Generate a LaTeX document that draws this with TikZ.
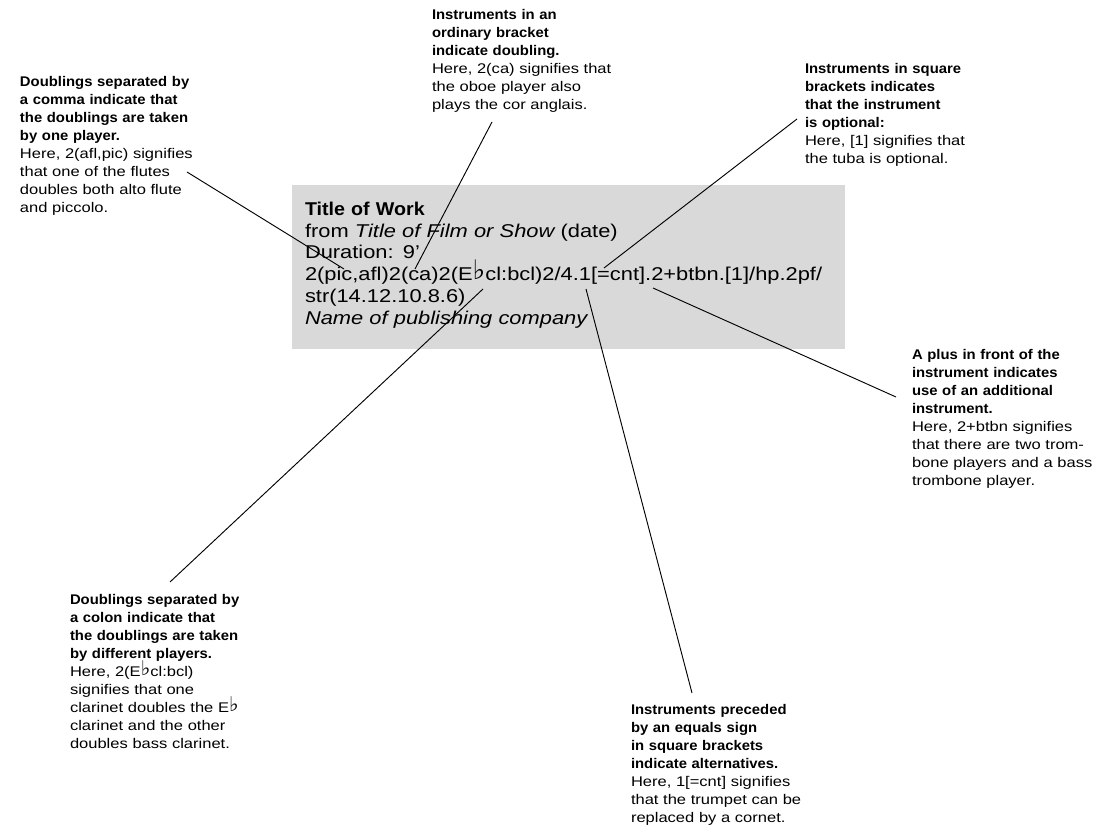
\documentclass[tikz,border=0pt]{standalone}
\usepackage{fontspec}
\usepackage{graphicx}
\setmainfont{Liberation Sans}
\newfontfamily\regf{Liberation Sans}[FakeStretch=1.18]
\newfontfamily\boldf{Liberation Sans}[FakeStretch=1.06]
\newfontfamily\flatfont{DejaVu Sans}
\newcommand\flatsign{\smash{\raisebox{0.05em}{\scalebox{1.45}{\flatfont ♭}}}}
\definecolor{boxgrey}{HTML}{D9D9D9}
\begin{document}
\begin{tikzpicture}[x=0.75pt,y=-0.75pt,
  anno/.style={anchor=north west, inner sep=0pt, outer sep=0pt, align=left,
    text width=187.5pt, font={\fontsize{10.5pt}{13.5pt}\selectfont\regf}},
  worktext/.style={anchor=north west, inner sep=0pt, outer sep=0pt, align=left,
    text width=450pt, font={\fontsize{13.9pt}{16.3pt}\selectfont\regf}},
  conn/.style={draw=black, line width=0.7pt}]
\useasboundingbox (0,0) rectangle (1111,830);
% grey panel
\path[fill=boxgrey] (292,185) rectangle (845,349);
% work description
\node[worktext] (work) at (305,202) {{\boldf\bfseries Title of Work}\\
from {\itshape Title of Film or Show} (date)\\
Duration: 9’\\
2(pic,afl)2(ca)2(E\flatsign cl:bcl)2/4.1[=cnt].2+btbn.[1]/hp.2pf/\\
str(14.12.10.8.6)\\
{\itshape Name of publishing company}};
% annotations
\node[anno] (comma) at (20,76) {{\boldf\bfseries Doublings separated by\\a comma indicate that\\the doublings are taken\\by one player.}\\
Here, 2(afl,pic) signifies\\that one of the flutes\\doubles both alto flute\\and piccolo.};
\node[anno] (bracket) at (432,9) {{\boldf\bfseries Instruments in an\\ordinary bracket\\indicate doubling.}\\
Here, 2(ca) signifies that\\the oboe player also\\plays the cor anglais.};
\node[anno] (square) at (805,63) {{\boldf\bfseries Instruments in square\\brackets indicates\\that the instrument\\is optional:}\\
Here, [1] signifies that\\the tuba is optional.};
\node[anno] (plus) at (912,349) {{\boldf\bfseries A plus in front of the\\instrument indicates\\use of an additional\\instrument.}\\
Here, 2+btbn signifies\\that there are two trom-\\bone players and a bass\\trombone player.};
\node[anno] (colon) at (70,594) {{\boldf\bfseries Doublings separated by\\a colon indicate that\\the doublings are taken\\by different players.}\\
Here, 2(E\flatsign cl:bcl)\\signifies that one\\clarinet doubles the E\flatsign\\clarinet and the other\\doubles bass clarinet.};
\node[anno] (equals) at (631,704) {{\boldf\bfseries Instruments preceded\\by an equals sign\\in square brackets\\indicate alternatives.}\\
Here, 1[=cnt] signifies\\that the trumpet can be\\replaced by a cornet.};
% connector end points
\coordinate (commaS) at (187,172);  \coordinate (commaE) at (344,269);
\coordinate (bracketS) at (492,122); \coordinate (bracketE) at (415,269);
\coordinate (squareS) at (797,119);  \coordinate (squareE) at (604,268);
\coordinate (plusS) at (896,397);    \coordinate (plusE) at (653,288);
\coordinate (colonS) at (170,582);   \coordinate (colonE) at (483,289);
\coordinate (equalsS) at (692,693);  \coordinate (equalsE) at (586,289);
\draw[conn] (commaS) -- (commaE);
\draw[conn] (bracketS) -- (bracketE);
\draw[conn] (squareS) -- (squareE);
\draw[conn] (plusS) -- (plusE);
\draw[conn] (colonS) -- (colonE);
\draw[conn] (equalsS) -- (equalsE);
\end{tikzpicture}
\end{document}
